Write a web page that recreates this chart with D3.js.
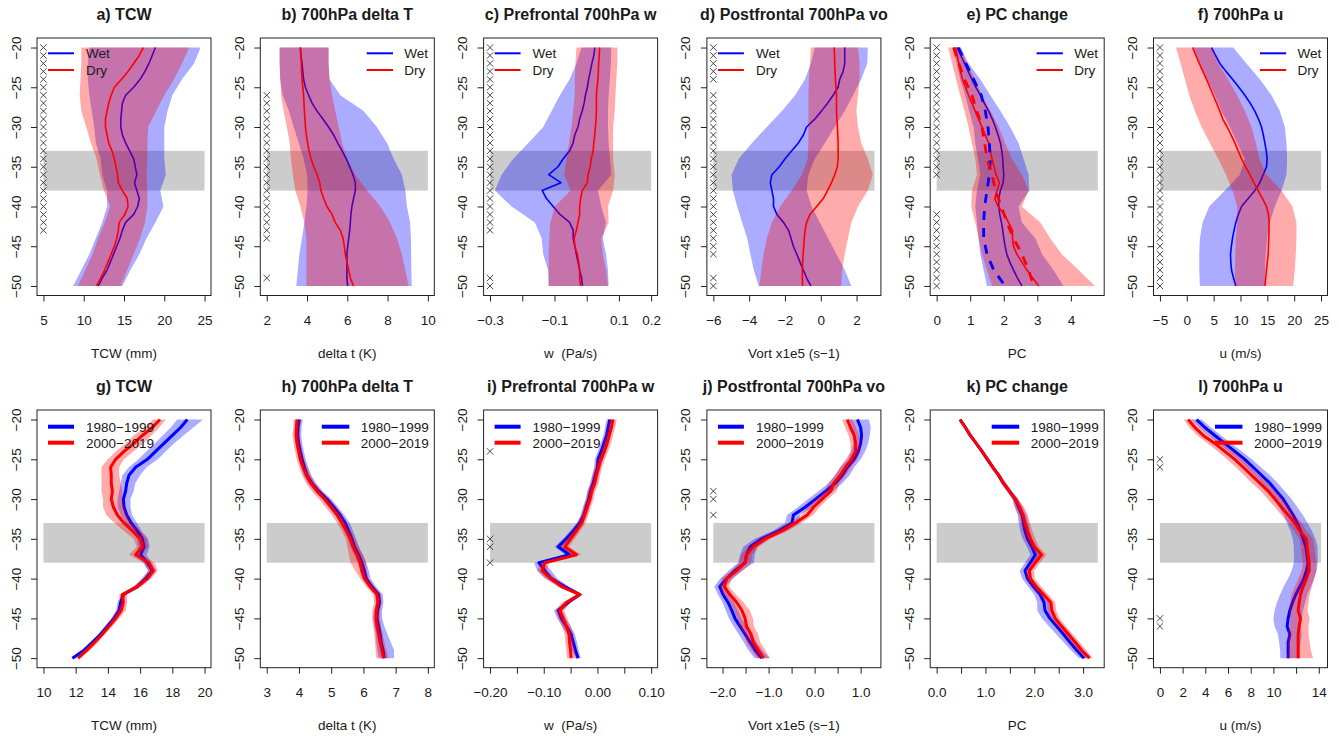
<!DOCTYPE html>
<html lang="en">
<head>
<meta charset="UTF-8">
<title>Wet vs Dry composites</title>
<script src="https://d3js.org/d3.v7.min.js"></script>
<style>
  body { margin: 0; background: #fff; }
  svg { display: block; font-family: "Liberation Sans", Arial, sans-serif; }
</style>
</head>
<body>
<svg id="chart" width="1339" height="738"></svg>
<script>
// latitudes (y axis) — lines read every degree, wide top-row bands every 2 degrees
var LAT_1 = [-20,-21,-22,-23,-24,-25,-26,-27,-28,-29,-30,-31,-32,-33,-34,-35,-36,-37,-38,-39,-40,-41,-42,-43,-44,-45,-46,-47,-48,-49,-50];
var LAT_2 = [-20,-22,-24,-26,-28,-30,-32,-34,-36,-38,-40,-42,-44,-46,-48,-50];
var Y_TICKS = [-20,-25,-30,-35,-40,-45,-50];
var BAND_LAT = [-33, -38];

// a) TCW
var A_WET = [18.9,18.5,18.1,17.6,17.0,16.2,15.2,14.8,14.7,14.6,14.6,14.8,15.2,15.7,16.2,16.4,16.6,16.3,16.6,16.9,16.7,16.2,15.2,14.8,14.5,14.1,13.7,13.3,12.9,12.3,11.8];
var A_DRY = [17.4,16.9,16.2,15.5,14.7,13.8,13.4,13.1,12.9,12.7,12.7,12.9,13.1,13.5,13.8,14.0,14.2,14.3,14.8,15.4,15.5,15.1,14.4,14.3,14.1,13.8,13.4,13.0,12.6,12.1,11.6];
var A_WET_LO = [10.7,10.5,10.5,10.7,11.0,11.3,11.5,12.1,12.3,12.9,12.9,12.3,11.5,10.7,9.7,8.7];
var A_WET_HI = [24.5,23.7,22.2,21.0,20.4,20.0,20.0,20.0,20.2,19.5,19.9,18.9,17.8,16.9,15.8,14.8];
var A_DRY_LO = [9.7,9.7,9.6,9.5,9.7,10.3,10.9,11.6,12.0,12.5,13.3,12.6,11.8,11.1,10.2,9.3];
var A_DRY_HI = [23.1,22.2,21.2,20.0,19.0,18.0,17.9,17.9,17.8,17.9,17.9,17.6,17.0,16.2,15.4,14.6];
var A_MARKS = [-20,-21,-22,-23,-24,-25,-26,-27,-28,-29,-30,-31,-32,-33,-34,-35,-36,-37,-38,-39,-40,-41,-42,-43];

// b) 700hPa delta T
var B_WET = [3.67,3.70,3.75,3.79,3.83,3.92,4.08,4.25,4.5,4.79,5.07,5.32,5.52,5.74,5.95,6.12,6.28,6.40,6.40,6.31,6.23,6.18,6.15,6.12,6.07,6.02,5.98,5.98,5.98,5.98,6.02];
var B_DRY = [3.67,3.69,3.72,3.73,3.75,3.79,3.83,3.85,3.87,3.9,3.92,3.97,4.03,4.1,4.2,4.33,4.5,4.63,4.69,4.83,4.99,5.24,5.40,5.65,5.79,5.85,5.90,5.98,6.07,6.15,6.31];
var B_WET_LO = [2.64,2.64,2.66,2.8,3.1,3.34,3.59,3.83,4.0,4.03,3.97,3.87,3.75,3.62,3.54,3.47];
var B_WET_HI = [5.07,5.07,5.12,5.65,6.81,7.47,7.97,8.30,8.71,8.88,8.96,9.12,9.16,9.17,9.18,9.2];
var B_DRY_LO = [2.64,2.64,2.68,2.71,2.84,3.0,3.14,3.2,3.3,3.42,3.67,3.87,3.97,3.97,3.97,3.97];
var B_DRY_HI = [5.07,5.07,5.12,5.24,5.4,5.57,5.74,5.98,6.40,6.98,7.64,8.13,8.46,8.71,8.88,9.04];
var B_MARKS = [-26,-27,-28,-29,-30,-31,-32,-33,-34,-35,-36,-37,-38,-39,-40,-41,-42,-43,-44,-49];

// c) Prefrontal 700hPa w
var C_WET = [0.025,0.022,0.016,0.011,0.006,0.002,-0.004,-0.008,-0.014,-0.022,-0.027,-0.037,-0.042,-0.053,-0.073,-0.089,-0.118,-0.080,-0.138,-0.125,-0.104,-0.083,-0.053,-0.042,-0.042,-0.037,-0.032,-0.027,-0.022,-0.016,-0.013];
var C_DRY = [0.040,0.039,0.037,0.036,0.035,0.032,0.030,0.030,0.030,0.029,0.027,0.025,0.022,0.020,0.014,0.011,0.004,0.002,-0.014,-0.019,-0.022,-0.022,-0.027,-0.032,-0.039,-0.037,-0.029,-0.025,-0.022,-0.022,-0.019];
var C_WET_LO = [-0.016,-0.032,-0.053,-0.083,-0.109,-0.135,-0.181,-0.228,-0.264,-0.285,-0.233,-0.161,-0.140,-0.135,-0.120,-0.118];
var C_WET_HI = [0.076,0.075,0.072,0.068,0.066,0.066,0.068,0.072,0.076,0.035,0.045,0.060,0.050,0.060,0.066,0.068];
var C_DRY_LO = [-0.032,-0.035,-0.037,-0.037,-0.042,-0.047,-0.055,-0.063,-0.070,-0.050,-0.099,-0.113,-0.116,-0.118,-0.118,-0.118];
var C_DRY_HI = [0.095,0.095,0.092,0.089,0.087,0.082,0.082,0.082,0.087,0.082,0.066,0.068,0.045,0.050,0.060,0.066];
var C_MARKS = [-20,-21,-22,-23,-24,-25,-26,-27,-28,-29,-30,-31,-32,-33,-34,-35,-36,-37,-38,-39,-40,-41,-42,-43,-49,-50];

// d) Postfrontal 700hPa vo
var D_WET = [1.34,1.34,1.34,1.25,1.06,0.97,0.69,0.38,0.04,-0.33,-0.79,-0.97,-1.25,-1.62,-1.99,-2.32,-2.73,-2.82,-2.73,-2.64,-2.64,-2.45,-2.08,-1.80,-1.66,-1.53,-1.34,-1.16,-0.97,-0.79,-0.55];
var D_DRY = [0.75,0.77,0.78,0.80,0.82,0.85,0.88,0.88,0.88,0.90,0.93,0.95,0.97,0.97,0.97,0.93,0.78,0.60,0.38,0.14,-0.23,-0.60,-0.79,-0.88,-0.92,-0.95,-0.99,-1.01,-1.03,-1.03,-1.01];
var D_WET_LO = [-0.33,-0.55,-0.88,-1.43,-2.17,-3.01,-3.84,-4.58,-4.98,-4.91,-4.67,-4.39,-4.11,-3.93,-3.74,-3.47];
var D_WET_HI = [2.63,2.60,2.26,1.80,1.34,0.78,0.23,-0.33,-0.69,-0.79,-0.51,-0.05,0.41,0.88,1.34,1.71];
var D_DRY_LO = [-0.55,-0.6,-0.66,-0.69,-0.69,-0.69,-0.69,-0.73,-1.06,-1.62,-2.27,-2.73,-3.01,-3.19,-3.32,-3.43];
var D_DRY_HI = [2.08,2.17,2.17,2.08,1.99,2.08,2.26,2.63,2.91,2.63,2.08,1.71,1.52,1.34,1.19,1.15];
var D_MARKS = [-20,-21,-22,-23,-24,-26,-27,-28,-29,-30,-31,-32,-33,-34,-35,-36,-37,-38,-39,-40,-41,-42,-43,-44,-45,-46,-49,-50];

// e) PC change (solid = composite, dashed = second estimate)
var E_WET = [0.61,0.72,0.83,0.94,1.05,1.17,1.30,1.42,1.55,1.66,1.75,1.83,1.90,1.94,1.97,1.98,2.0,1.98,1.9,1.85,1.85,1.88,1.93,1.97,2.0,2.04,2.09,2.18,2.29,2.41,2.54];
var E_DRY = [0.56,0.61,0.66,0.71,0.77,0.86,0.95,1.05,1.15,1.25,1.35,1.45,1.55,1.60,1.65,1.71,1.77,1.87,1.8,1.73,1.83,2.02,2.14,2.26,2.26,2.29,2.39,2.54,2.69,2.86,3.04];
var E_WET_DASH = [0.64,0.87,1.10,1.33,1.45,1.53,1.57,1.6,1.57,1.5,1.43,1.40,1.40,1.5,1.70,2.04];
var E_DRY_DASH = [0.51,0.66,0.83,1.05,1.2,1.35,1.43,1.5,1.65,1.75,1.93,2.09,2.29,2.54,2.74,2.89];
var E_WET_LO = [0.46,0.6,0.7,0.85,0.97,1.1,1.15,1.23,1.3,1.2,1.15,1.2,1.25,1.3,1.4,1.5];
var E_WET_HI = [0.72,0.95,1.3,1.6,1.9,2.19,2.44,2.59,2.74,2.76,2.44,2.54,2.94,3.14,3.48,3.78];
var E_DRY_LO = [0.34,0.46,0.58,0.70,0.83,0.95,1.05,1.15,1.2,1.05,1.03,1.15,1.25,1.35,1.5,1.65];
var E_DRY_HI = [0.72,0.9,1.15,1.35,1.6,1.85,2.04,2.24,2.54,2.74,2.54,3.09,3.38,3.73,4.23,4.72];
var E_MARKS = [-20,-21,-22,-23,-24,-25,-26,-27,-28,-29,-30,-31,-32,-33,-34,-35,-36,-41,-42,-43,-44,-45,-46,-47,-48,-49,-50];

// f) 700hPa u
var F_WET = [4.61,5.35,6.16,7.3,8.51,9.7,10.81,11.8,12.67,13.35,13.91,14.25,14.53,14.8,14.96,14.84,14.22,13.6,12.67,11.43,10.19,9.6,9.13,8.8,8.51,8.3,8.14,8.2,8.33,8.7,9.13];
var F_DRY = [1.08,1.7,2.32,3.0,3.68,4.3,4.92,5.55,6.16,6.7,7.52,8.25,8.95,9.57,10.19,10.95,11.74,12.5,13.29,14.1,14.84,15.2,15.33,15.3,15.27,15.2,15.15,15.0,14.84,14.7,14.53];
var F_WET_LO = [1.20,2.44,3.80,5.23,6.47,8.02,9.38,10.81,9.88,7.09,4.18,2.94,2.44,2.32,2.32,2.44];
var F_WET_HI = [8.64,11.12,13.6,15.77,17.32,18.25,18.56,18.68,18.56,17.63,16.39,15.46,14.96,14.71,14.59,14.53];
var F_DRY_LO = [-2.02,-1.16,-0.35,0.46,1.51,2.75,4.30,5.85,7.28,8.52,9.38,9.38,9.13,9.01,8.95,8.95];
var F_DRY_HI = [4.61,5.85,7.71,9.38,10.81,12.05,12.85,13.47,14.84,17.63,19.67,20.42,20.42,20.29,20.11,19.8];
var F_MARKS = [-20,-21,-22,-23,-24,-25,-26,-27,-28,-29,-30,-31,-32,-33,-34,-35,-36,-37,-38,-39,-40,-41,-42,-43,-44,-45,-46,-47,-48,-49,-50];

// g) TCW, 1980-1999 vs 2000-2019
var G_OLD = [18.93,18.51,18.0,17.48,16.96,16.45,15.72,15.31,15.17,15.1,14.96,15.0,15.17,15.45,15.83,16.14,16.24,16.03,16.45,16.76,16.34,15.83,14.96,14.79,14.69,14.38,13.97,13.55,13.04,12.52,11.8];
var G_NEW = [17.23,16.76,16.14,15.62,15.0,14.48,14.17,14.21,14.21,14.28,14.21,14.34,14.59,15.0,15.52,16.03,16.14,15.72,16.55,16.82,16.45,15.83,14.9,14.96,14.83,14.48,14.07,13.66,13.18,12.69,12.15];
var G_OLD_LO = [18.3,17.9,17.4,16.9,16.4,15.9,15.3,14.9,14.8,14.7,14.6,14.6,14.8,15.1,15.5,15.8,15.9,15.7,16.2,16.5,16.1,15.6,14.8,14.6,14.5,14.2,13.8,13.4,12.9,12.4,11.7];
var G_OLD_HI = [19.9,19.3,18.7,18.1,17.6,17.1,16.4,16.0,15.7,15.6,15.4,15.4,15.5,15.8,16.1,16.5,16.6,16.4,16.7,17.0,16.6,16.0,15.1,15.0,14.9,14.6,14.2,13.7,13.2,12.7,11.9];
var G_NEW_LO = [16.8,16.3,15.6,15.1,14.5,14.0,13.6,13.6,13.6,13.6,13.7,13.7,13.9,14.4,15.0,15.6,15.8,15.3,16.2,16.5,16.2,15.6,14.7,14.8,14.6,14.3,13.9,13.5,13.0,12.5,12.0];
var G_NEW_HI = [17.6,17.2,16.7,16.2,15.6,15.0,14.7,14.7,14.8,14.9,14.9,15.0,15.2,15.5,16.0,16.4,16.5,16.1,16.9,17.1,16.7,16.1,15.2,15.2,15.1,14.7,14.3,13.8,13.4,12.9,12.3];
var G_MARKS = [];

// h) 700hPa delta T
var H_OLD = [4.01,3.97,3.96,3.99,4.04,4.1,4.17,4.25,4.4,4.61,4.87,5.08,5.28,5.44,5.54,5.64,5.72,5.85,5.95,6.03,6.09,6.26,6.47,6.5,6.44,6.42,6.47,6.52,6.55,6.61,6.65];
var H_NEW = [3.94,3.92,3.91,3.94,3.99,4.04,4.13,4.23,4.37,4.56,4.79,4.99,5.18,5.33,5.47,5.59,5.68,5.8,5.9,5.95,6.03,6.21,6.42,6.45,6.4,6.39,6.42,6.47,6.52,6.57,6.63];
var H_OLD_LO = [3.9,3.87,3.86,3.89,3.94,4.0,4.06,4.14,4.28,4.48,4.73,4.94,5.14,5.3,5.41,5.52,5.6,5.72,5.82,5.9,5.97,6.14,6.36,6.39,6.33,6.3,6.34,6.38,6.4,6.43,6.48];
var H_OLD_HI = [4.12,4.08,4.07,4.1,4.15,4.21,4.29,4.38,4.53,4.74,5.0,5.21,5.41,5.58,5.68,5.77,5.86,5.98,6.09,6.17,6.22,6.39,6.6,6.62,6.58,6.58,6.65,6.75,6.85,6.95,6.95];
var H_NEW_LO = [3.84,3.82,3.8,3.83,3.88,3.93,4.01,4.1,4.22,4.4,4.62,4.82,5.02,5.18,5.33,5.45,5.5,5.55,5.6,5.75,5.9,6.09,6.3,6.33,6.28,6.27,6.3,6.34,6.36,6.38,6.4];
var H_NEW_HI = [4.05,4.03,4.02,4.05,4.1,4.15,4.25,4.36,4.5,4.7,4.94,5.14,5.33,5.48,5.61,5.74,5.84,5.98,6.08,6.1,6.16,6.33,6.54,6.57,6.52,6.51,6.55,6.6,6.65,6.72,6.78];
var H_MARKS = [];

// i) Prefrontal 700hPa w
var I_OLD = [0.023,0.020,0.017,0.012,0.007,0.001,0.000,-0.004,-0.008,-0.013,-0.016,-0.021,-0.025,-0.033,-0.045,-0.058,-0.073,-0.052,-0.109,-0.098,-0.086,-0.061,-0.033,-0.055,-0.073,-0.067,-0.058,-0.049,-0.045,-0.041,-0.036];
var I_NEW = [0.029,0.026,0.022,0.018,0.013,0.007,0.002,-0.002,-0.005,-0.011,-0.014,-0.019,-0.024,-0.029,-0.039,-0.050,-0.061,-0.039,-0.098,-0.103,-0.087,-0.067,-0.033,-0.058,-0.070,-0.064,-0.058,-0.053,-0.052,-0.050,-0.049];
var I_OLD_LO = [0.017,0.014,0.011,0.006,0.001,-0.005,-0.006,-0.010,-0.014,-0.019,-0.022,-0.027,-0.031,-0.039,-0.051,-0.064,-0.080,-0.060,-0.118,-0.112,-0.098,-0.069,-0.038,-0.061,-0.081,-0.075,-0.066,-0.056,-0.052,-0.047,-0.041];
var I_OLD_HI = [0.029,0.026,0.023,0.018,0.013,0.007,0.006,0.002,-0.002,-0.007,-0.010,-0.015,-0.019,-0.027,-0.039,-0.052,-0.066,-0.044,-0.100,-0.086,-0.075,-0.053,-0.028,-0.049,-0.066,-0.059,-0.050,-0.042,-0.038,-0.035,-0.031];
var I_NEW_LO = [0.022,0.019,0.015,0.011,0.006,0.000,-0.005,-0.009,-0.012,-0.018,-0.021,-0.026,-0.031,-0.036,-0.046,-0.058,-0.069,-0.048,-0.106,-0.112,-0.096,-0.075,-0.039,-0.066,-0.078,-0.072,-0.066,-0.061,-0.060,-0.058,-0.057];
var I_NEW_HI = [0.036,0.033,0.029,0.025,0.020,0.014,0.009,0.005,0.002,-0.004,-0.007,-0.012,-0.017,-0.022,-0.032,-0.042,-0.053,-0.030,-0.090,-0.094,-0.078,-0.059,-0.027,-0.050,-0.062,-0.056,-0.050,-0.045,-0.044,-0.042,-0.041];
var I_MARKS = [-24,-35,-36,-38];

// j) Postfrontal 700hPa vo
var J_OLD = [0.93,1.0,1.02,1.0,0.95,0.86,0.71,0.6,0.45,0.24,0.02,-0.2,-0.46,-0.49,-0.78,-1.15,-1.4,-1.48,-1.51,-1.73,-1.91,-2.06,-1.99,-1.88,-1.8,-1.73,-1.62,-1.51,-1.4,-1.29,-1.15];
var J_NEW = [0.71,0.78,0.86,0.89,0.89,0.80,0.67,0.56,0.42,0.35,0.16,-0.02,-0.16,-0.42,-0.71,-1.08,-1.33,-1.48,-1.51,-1.69,-1.91,-1.96,-1.84,-1.69,-1.58,-1.51,-1.48,-1.38,-1.33,-1.22,-1.11];
var J_OLD_LO = [0.75,0.82,0.86,0.84,0.80,0.72,0.56,0.45,0.30,0.08,-0.14,-0.36,-0.60,-0.64,-0.92,-1.30,-1.55,-1.62,-1.66,-1.87,-2.05,-2.18,-2.10,-2.00,-1.93,-1.86,-1.76,-1.65,-1.54,-1.44,-1.30];
var J_OLD_HI = [1.18,1.22,1.20,1.16,1.10,1.00,0.86,0.76,0.60,0.40,0.18,-0.05,-0.32,-0.34,-0.63,-1.00,-1.25,-1.30,-1.32,-1.58,-1.77,-1.94,-1.87,-1.75,-1.66,-1.58,-1.48,-1.37,-1.26,-1.14,-0.98];
var J_NEW_LO = [0.60,0.66,0.74,0.78,0.78,0.68,0.55,0.44,0.30,0.22,0.03,-0.15,-0.29,-0.55,-0.84,-1.20,-1.45,-1.60,-1.64,-1.82,-2.02,-2.06,-1.97,-1.84,-1.75,-1.68,-1.64,-1.53,-1.48,-1.37,-1.25];
var J_NEW_HI = [0.82,0.90,0.97,1.00,1.00,0.92,0.79,0.68,0.54,0.48,0.29,0.11,-0.03,-0.29,-0.58,-0.96,-1.21,-1.36,-1.38,-1.56,-1.80,-1.86,-1.71,-1.54,-1.41,-1.34,-1.32,-1.23,-1.18,-1.07,-0.97];
var J_MARKS = [-29,-30,-32];

// k) PC change
var K_OLD = [0.48,0.59,0.69,0.81,0.93,1.04,1.15,1.27,1.37,1.49,1.61,1.68,1.75,1.78,1.81,1.86,1.95,2.02,1.92,1.81,1.86,1.98,2.12,2.2,2.22,2.32,2.46,2.6,2.73,2.87,3.02];
var K_NEW = [0.48,0.59,0.69,0.81,0.93,1.04,1.15,1.27,1.37,1.49,1.61,1.70,1.77,1.81,1.86,1.92,2.0,2.15,2.02,1.9,1.92,2.04,2.19,2.34,2.36,2.43,2.56,2.7,2.84,2.97,3.13];
var K_OLD_LO = [0.46,0.56,0.66,0.78,0.9,1.0,1.11,1.23,1.32,1.44,1.55,1.6,1.66,1.68,1.71,1.76,1.85,1.92,1.81,1.7,1.75,1.87,2.0,2.06,2.06,2.16,2.3,2.45,2.6,2.75,2.92];
var K_OLD_HI = [0.5,0.62,0.72,0.84,0.96,1.08,1.19,1.31,1.42,1.54,1.67,1.76,1.84,1.88,1.91,1.96,2.05,2.12,2.02,1.91,1.96,2.08,2.23,2.32,2.36,2.46,2.6,2.74,2.86,2.98,3.1];
var K_NEW_LO = [0.46,0.56,0.66,0.78,0.9,1.0,1.11,1.23,1.32,1.44,1.55,1.6,1.68,1.72,1.77,1.83,1.91,2.05,1.93,1.82,1.83,1.95,2.1,2.25,2.27,2.34,2.47,2.61,2.75,2.88,3.05];
var K_NEW_HI = [0.5,0.62,0.72,0.84,0.96,1.08,1.19,1.31,1.42,1.54,1.67,1.79,1.87,1.91,1.96,2.02,2.1,2.25,2.12,2.0,2.01,2.14,2.29,2.43,2.45,2.52,2.65,2.79,2.93,3.07,3.2];
var K_MARKS = [];

// l) 700hPa u
var L_OLD = [3.23,3.96,4.84,5.72,6.6,7.48,8.22,8.95,9.69,10.27,10.86,11.3,11.74,12.09,12.39,12.62,12.86,12.97,13.06,12.91,12.68,12.33,11.98,11.68,11.45,11.3,11.21,11.45,11.3,11.3,11.3];
var L_NEW = [2.49,3.08,3.82,4.84,5.72,6.6,7.34,8.07,8.81,9.54,10.13,10.71,11.3,11.89,12.33,12.91,12.97,13.06,13.15,13.15,12.91,12.62,12.39,12.27,12.18,12.39,12.27,12.18,12.18,12.18,12.18];
var L_OLD_LO = [2.8,3.5,4.3,5.2,6.0,6.9,7.6,8.3,9.0,9.6,10.1,10.5,10.9,11.2,11.5,11.7,11.8,11.8,11.8,11.6,11.3,10.9,10.6,10.3,10.1,10.0,10.1,10.4,10.5,10.6,10.6];
var L_OLD_HI = [3.7,4.5,5.4,6.3,7.2,8.1,8.9,9.7,10.4,11.0,11.6,12.1,12.6,13.0,13.4,13.7,13.9,13.9,13.9,13.8,13.6,13.3,13.0,12.8,12.6,12.5,12.4,12.5,12.4,12.3,12.3];
var L_NEW_LO = [2.1,2.6,3.3,4.2,5.1,5.9,6.7,7.4,8.1,8.9,9.5,10.1,10.7,11.3,11.8,12.3,12.4,12.5,12.6,12.5,12.2,11.9,11.6,11.5,11.4,11.5,11.4,11.3,11.3,11.3,11.2];
var L_NEW_HI = [2.9,3.6,4.4,5.5,6.4,7.3,8.0,8.7,9.5,10.2,10.8,11.4,11.9,12.5,12.9,13.5,13.6,13.7,13.8,13.8,13.6,13.4,13.2,13.1,13.0,13.2,13.1,13.1,13.2,13.3,13.5];
var L_MARKS = [-25,-26,-45,-46];

// x tick positions and their printed labels ("" = tick without label)
var A_XT = [5,10,15,20,25],   A_XL = ["5","10","15","20","25"];
var B_XT = [2,4,6,8,10],      B_XL = ["2","4","6","8","10"];
var C_XT = [-0.3,-0.2,-0.1,0,0.1,0.2], C_XL = ["\u22120.3","","\u22120.1","","0.1","0.2"];
var D_XT = [-6,-4,-2,0,2],    D_XL = ["\u22126","\u22124","\u22122","0","2"];
var E_XT = [0,1,2,3,4],       E_XL = ["0","1","2","3","4"];
var F_XT = [-5,0,5,10,15,20,25], F_XL = ["\u22125","0","5","10","15","20","25"];
var G_XT = [10,12,14,16,18,20], G_XL = ["10","12","14","16","18","20"];
var H_XT = [3,4,5,6,7,8],     H_XL = ["3","4","5","6","7","8"];
var I_XT = [-0.2,-0.15,-0.1,-0.05,0,0.05,0.1], I_XL = ["\u22120.20","","\u22120.10","","0.00","","0.10"];
var J_XT = [-2,-1.5,-1,-0.5,0,0.5,1], J_XL = ["\u22122.0","","\u22121.0","","0.0","","1.0"];
var K_XT = [0,0.5,1,1.5,2,2.5,3], K_XL = ["0.0","","1.0","","2.0","","3.0"];
var L_XT = [0,2,4,6,8,10,12,14], L_XL = ["0","2","4","6","8","10","","14"];

var TOP_LEGEND = ["Wet", "Dry"];
var BOTTOM_LEGEND = ["1980\u22121999", "2000\u22122019"];

var panels = [
  {t:"a) TCW", xlab:"TCW (mm)", xlim:[5,25], xt:A_XT, xl:A_XL, blue:A_WET, red:A_DRY, bLo:A_WET_LO, bHi:A_WET_HI, rLo:A_DRY_LO, rHi:A_DRY_HI, marks:A_MARKS, leg:"left"},
  {t:"b) 700hPa delta T", xlab:"delta t (K)", xlim:[2,10], xt:B_XT, xl:B_XL, blue:B_WET, red:B_DRY, bLo:B_WET_LO, bHi:B_WET_HI, rLo:B_DRY_LO, rHi:B_DRY_HI, marks:B_MARKS, leg:"right"},
  {t:"c) Prefrontal 700hPa w", xlab:"w\u00a0\u00a0(Pa/s)", xlim:[-0.3,0.2], xt:C_XT, xl:C_XL, blue:C_WET, red:C_DRY, bLo:C_WET_LO, bHi:C_WET_HI, rLo:C_DRY_LO, rHi:C_DRY_HI, marks:C_MARKS, leg:"left"},
  {t:"d) Postfrontal 700hPa vo", xlab:"Vort x1e5 (s\u22121)", xlim:[-6,3], xt:D_XT, xl:D_XL, blue:D_WET, red:D_DRY, bLo:D_WET_LO, bHi:D_WET_HI, rLo:D_DRY_LO, rHi:D_DRY_HI, marks:D_MARKS, leg:"left"},
  {t:"e) PC change", xlab:"PC", xlim:[0,4.8], xt:E_XT, xl:E_XL, blue:E_WET, red:E_DRY, bLo:E_WET_LO, bHi:E_WET_HI, rLo:E_DRY_LO, rHi:E_DRY_HI, marks:E_MARKS, leg:"right", blueDash:E_WET_DASH, redDash:E_DRY_DASH},
  {t:"f) 700hPa u", xlab:"u (m/s)", xlim:[-5,25], xt:F_XT, xl:F_XL, blue:F_WET, red:F_DRY, bLo:F_WET_LO, bHi:F_WET_HI, rLo:F_DRY_LO, rHi:F_DRY_HI, marks:F_MARKS, leg:"right"},
  {t:"g) TCW", xlab:"TCW (mm)", xlim:[10,20], xt:G_XT, xl:G_XL, blue:G_OLD, red:G_NEW, bLo:G_OLD_LO, bHi:G_OLD_HI, rLo:G_NEW_LO, rHi:G_NEW_HI, marks:G_MARKS, leg:"left"},
  {t:"h) 700hPa delta T", xlab:"delta t (K)", xlim:[3,8], xt:H_XT, xl:H_XL, blue:H_OLD, red:H_NEW, bLo:H_OLD_LO, bHi:H_OLD_HI, rLo:H_NEW_LO, rHi:H_NEW_HI, marks:H_MARKS, leg:"right"},
  {t:"i) Prefrontal 700hPa w", xlab:"w\u00a0\u00a0(Pa/s)", xlim:[-0.2,0.1], xt:I_XT, xl:I_XL, blue:I_OLD, red:I_NEW, bLo:I_OLD_LO, bHi:I_OLD_HI, rLo:I_NEW_LO, rHi:I_NEW_HI, marks:I_MARKS, leg:"left"},
  {t:"j) Postfrontal 700hPa vo", xlab:"Vort x1e5 (s\u22121)", xlim:[-2.2,1.3], xt:J_XT, xl:J_XL, blue:J_OLD, red:J_NEW, bLo:J_OLD_LO, bHi:J_OLD_HI, rLo:J_NEW_LO, rHi:J_NEW_HI, marks:J_MARKS, leg:"left"},
  {t:"k) PC change", xlab:"PC", xlim:[0,3.3], xt:K_XT, xl:K_XL, blue:K_OLD, red:K_NEW, bLo:K_OLD_LO, bHi:K_OLD_HI, rLo:K_NEW_LO, rHi:K_NEW_HI, marks:K_MARKS, leg:"right"},
  {t:"l) 700hPa u", xlab:"u (m/s)", xlim:[0,14.2], xt:L_XT, xl:L_XL, blue:L_OLD, red:L_NEW, bLo:L_OLD_LO, bHi:L_OLD_HI, rLo:L_NEW_LO, rHi:L_NEW_HI, marks:L_MARKS, leg:"right"}
];

var svg = d3.select("#chart");
var BLUE = "#0000ff", RED = "#ff0000", TEXT = "#1a1a1a";

function zip(lats, vals) {
  return lats.map(function(lat, i) { return {lat: lat, v: vals[i]}; });
}
function zipBand(lats, lo, hi) {
  return lats.map(function(lat, i) { return {lat: lat, lo: lo[i], hi: hi[i]}; });
}

panels.forEach(function(p, n) {
  var row = n < 6 ? 0 : 1, col = n % 6;
  var left = 37 + 223.3 * col, right = left + 174;
  var top = row === 0 ? 38 : 410, bottom = row === 0 ? 295.5 : 667.7;
  var bottomRow = row === 1;
  var bandLat = bottomRow ? LAT_1 : LAT_2;

  // R style: 4% padding beyond the data limits
  var pad = (p.xlim[1] - p.xlim[0]) * 0.04;
  var x = d3.scaleLinear().domain([p.xlim[0] - pad, p.xlim[1] + pad]).range([left, right]);
  var y = d3.scaleLinear().domain([-51.2, -18.8]).range([bottom, top]);

  var g = svg.append("g");

  // highlighted latitude band
  g.append("rect")
    .attr("x", x(p.xlim[0])).attr("width", x(p.xlim[1]) - x(p.xlim[0]))
    .attr("y", y(BAND_LAT[0])).attr("height", y(BAND_LAT[1]) - y(BAND_LAT[0]))
    .attr("fill", "#cccccc");

  // significance crosses
  g.selectAll(".mark").data(p.marks).enter().append("path")
    .attr("d", function(d) {
      var cx = x(p.xlim[0]), cy = y(d), s = 3.2;
      return "M" + (cx - s) + "," + (cy - s) + "L" + (cx + s) + "," + (cy + s) +
             "M" + (cx - s) + "," + (cy + s) + "L" + (cx + s) + "," + (cy - s);
    })
    .attr("stroke", "#333").attr("stroke-width", 0.9).attr("fill", "none");

  var area = d3.area()
    .y(function(d) { return y(d.lat); })
    .x0(function(d) { return x(d.lo); })
    .x1(function(d) { return x(d.hi); });
  var line = d3.line()
    .x(function(d) { return x(d.v); })
    .y(function(d) { return y(d.lat); });
  var lw = bottomRow ? 3 : 1.6;

  g.append("path").datum(zipBand(bandLat, p.bLo, p.bHi))
    .attr("d", area).attr("fill", BLUE).attr("fill-opacity", 0.33);
  g.append("path").datum(zip(LAT_1, p.blue))
    .attr("d", line).attr("fill", "none").attr("stroke", BLUE).attr("stroke-width", lw)
    .attr("stroke-linejoin", "round");
  g.append("path").datum(zipBand(bandLat, p.rLo, p.rHi))
    .attr("d", area).attr("fill", RED).attr("fill-opacity", 0.33);
  g.append("path").datum(zip(LAT_1, p.red))
    .attr("d", line).attr("fill", "none").attr("stroke", RED).attr("stroke-width", lw)
    .attr("stroke-linejoin", "round");

  if (p.blueDash) {
    g.append("path").datum(zip(LAT_2, p.blueDash))
      .attr("d", line).attr("fill", "none").attr("stroke", BLUE).attr("stroke-width", 2.8)
      .attr("stroke-dasharray", "9,8");
    g.append("path").datum(zip(LAT_2, p.redDash))
      .attr("d", line).attr("fill", "none").attr("stroke", RED).attr("stroke-width", 2.8)
      .attr("stroke-dasharray", "9,8");
  }

  // plot frame
  g.append("rect")
    .attr("x", left).attr("y", top).attr("width", right - left).attr("height", bottom - top)
    .attr("fill", "none").attr("stroke", "#222").attr("stroke-width", 1);

  // x axis
  var xAxis = g.append("g")
    .attr("transform", "translate(0," + bottom + ")")
    .call(d3.axisBottom(x).tickValues(p.xt).tickSize(6).tickPadding(14)
      .tickFormat(function(d, i) { return p.xl[i]; }));
  xAxis.select(".domain").remove();
  xAxis.selectAll("line").attr("stroke", "#222");
  xAxis.selectAll("text").attr("fill", TEXT).style("font-size", "13.5px")
    .style("font-family", "Liberation Sans, Arial, sans-serif");

  // y axis, labels rotated like R's default las = 0
  var yAxis = g.append("g")
    .attr("transform", "translate(" + left + ",0)")
    .call(d3.axisLeft(y).tickValues(Y_TICKS).tickSize(6)
      .tickFormat(function(d) { return "\u2212" + Math.abs(d); }));
  yAxis.select(".domain").remove();
  yAxis.selectAll("line").attr("stroke", "#222");
  yAxis.selectAll("text")
    .attr("x", 0).attr("y", -16.5).attr("dy", 0)
    .attr("transform", "rotate(-90)")
    .attr("text-anchor", "middle")
    .attr("fill", TEXT).style("font-size", "13.5px")
    .style("font-family", "Liberation Sans, Arial, sans-serif");

  // legend (no frame, as in R with bty = "n")
  var names = bottomRow ? BOTTOM_LEGEND : TOP_LEGEND;
  var ly = bottomRow ? [top + 16.7, top + 32.7] : [top + 15.3, top + 32];
  var lx;
  if (p.leg === "left") lx = [left + 11, left + 37, left + 49];
  else if (bottomRow) lx = [right - 112.5, right - 85, right - 73.5];
  else lx = [right - 67.6, right - 41.3, right - 30];
  var legend = g.append("g");
  [BLUE, RED].forEach(function(c, i) {
    legend.append("line")
      .attr("x1", lx[0]).attr("x2", lx[1]).attr("y1", ly[i]).attr("y2", ly[i])
      .attr("stroke", c).attr("stroke-width", bottomRow ? 4 : 2);
    legend.append("text")
      .attr("x", lx[2]).attr("y", ly[i] + 4.8)
      .attr("fill", TEXT).style("font-size", "13.5px")
      .text(names[i]);
  });

  // title and x label
  g.append("text")
    .attr("x", (left + right) / 2).attr("y", top - 18.5)
    .attr("text-anchor", "middle").attr("fill", TEXT)
    .style("font-size", "16px").style("font-weight", "bold")
    .text(p.t);
  g.append("text")
    .attr("x", (left + right) / 2).attr("y", bottom + 62.3)
    .attr("text-anchor", "middle").attr("fill", TEXT)
    .style("font-size", "13.5px")
    .text(p.xlab);
});
</script>
</body>
</html>
